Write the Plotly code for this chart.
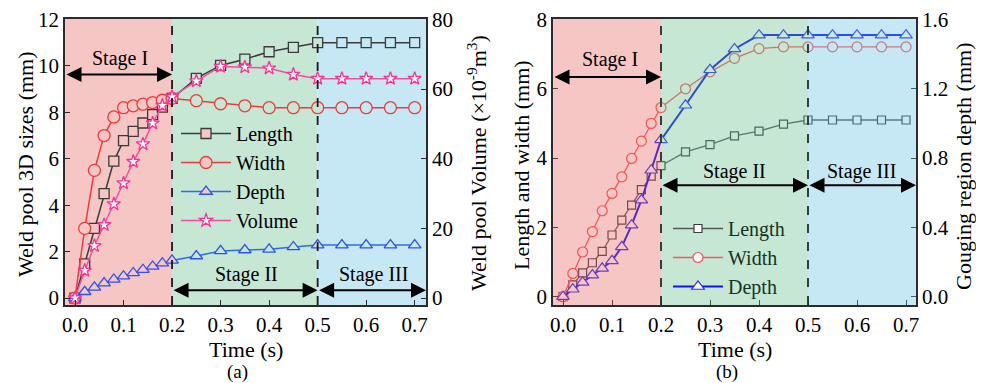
import plotly.graph_objects as go

# ---------------- data ----------------
time_s = [0, 0.02, 0.04, 0.06, 0.08, 0.10, 0.12, 0.14, 0.16, 0.18, 0.20,
          0.25, 0.30, 0.35, 0.40, 0.45, 0.50, 0.55, 0.60, 0.65, 0.70]

# (a) weld pool 3D sizes (mm) and volume (x1e-9 m^3)
length_a = [0, 1.47, 3.0, 4.5, 5.9, 6.78, 7.18, 7.54, 7.9, 8.22, 8.6,
            9.46, 10.02, 10.29, 10.61, 10.8, 11.0, 11.0, 11.0, 11.0, 11.0]
width_a = [0, 3.0, 5.5, 7.0, 7.8, 8.2, 8.28, 8.35, 8.42, 8.52, 8.6,
           8.5, 8.37, 8.28, 8.2, 8.2, 8.2, 8.2, 8.2, 8.2, 8.2]
depth_a = [0, 0.27, 0.46, 0.64, 0.8, 0.94, 1.08, 1.22, 1.36, 1.5, 1.62,
           1.81, 2.03, 2.07, 2.1, 2.2, 2.28, 2.28, 2.28, 2.28, 2.28]
volume_a = [0, 7.9, 15.0, 21.0, 27.0, 33.0, 39.2, 44.2, 50.2, 55.3, 57.8,
            62.3, 66.5, 66.3, 66.0, 64.2, 63.0, 63.0, 63.0, 63.0, 63.0]

# (b) length / width (mm) and gouging region depth (mm)
length_b = [0, 0.34, 0.69, 0.98, 1.31, 1.78, 2.21, 2.64, 3.09, 3.48, 3.78,
            4.18, 4.39, 4.64, 4.78, 4.98, 5.1, 5.1, 5.1, 5.1, 5.1]
width_b = [0, 0.67, 1.29, 1.88, 2.48, 2.98, 3.46, 3.99, 4.49, 5.0, 5.46,
           6.0, 6.49, 6.88, 7.16, 7.21, 7.21, 7.21, 7.21, 7.21, 7.21]
depth_b = [0, 0.043, 0.083, 0.125, 0.164, 0.207, 0.288, 0.413, 0.557, 0.73, 0.905,
           1.105, 1.31, 1.43, 1.51, 1.51, 1.51, 1.51, 1.51, 1.51, 1.51]

stage_bounds = [0.2, 0.5]
stage_names = ["Stage I", "Stage II", "Stage III"]

# ---------------- styling ----------------
W, H = 984, 383
OFF = 8  # page body margin of the html page
FONT = "Liberation Serif"
PINK, GREEN, BLUE = "#F6C6C4", "#C7E7D5", "#C6E8F4"

xr_a = [-0.0206, 0.7233]
xr_b = [-0.0204, 0.7204]
yr_a = [-0.3, 12.02]
yr_a2 = [-2, 80.13]
yr_b = [-0.24, 8.015]
yr_b2 = [-0.048, 1.603]


def px_x(p):
    return (p - OFF) / W


def px_y(p):
    return 1 - (p - OFF) / H


def region_fill(t):
    if t <= stage_bounds[0]:
        return PINK
    if t <= stage_bounds[1]:
        return GREEN
    return BLUE


fills_a = [region_fill(t) for t in time_s]

fig = go.Figure()

# ----- (a) -----
fig.add_trace(go.Scatter(x=time_s, y=length_a, name="Length", xaxis="x", yaxis="y",
                         mode="lines+markers", line=dict(color="#3a3a3a", width=1.5),
                         marker=dict(symbol="square", size=10, color=fills_a,
                                     line=dict(color="#3a3a3a", width=1.3)),
                         legend="legend"))
fig.add_trace(go.Scatter(x=time_s, y=width_a, name="Width", xaxis="x", yaxis="y",
                         mode="lines+markers", line=dict(color="#F03A3A", width=1.5),
                         marker=dict(symbol="circle", size=12, color=fills_a,
                                     line=dict(color="#F03A3A", width=1.3)),
                         legend="legend"))
fig.add_trace(go.Scatter(x=time_s, y=depth_a, name="Depth", xaxis="x", yaxis="y",
                         mode="lines+markers", line=dict(color="#2A6EF0", width=1.5),
                         marker=dict(symbol="triangle-up", size=11, color=fills_a,
                                     line=dict(color="#3050F0", width=1.3)),
                         legend="legend"))
fig.add_trace(go.Scatter(x=time_s, y=volume_a, name="Volume", xaxis="x", yaxis="y2",
                         mode="lines+markers", line=dict(color="#F0509E", width=1.5),
                         marker=dict(symbol="star", size=10, color="white",
                                     line=dict(color="#FF2F95", width=1.3)),
                         legend="legend"))

# ----- (b) -----
fig.add_trace(go.Scatter(x=time_s, y=length_b, name="Length", xaxis="x2", yaxis="y3",
                         mode="lines+markers", line=dict(color="#595659", width=1.3),
                         marker=dict(symbol="square", size=8, color="white",
                                     line=dict(color="#3f3c3f", width=1.2)),
                         legend="legend2"))
fig.add_trace(go.Scatter(x=time_s, y=width_b, name="Width", xaxis="x2", yaxis="y3",
                         mode="lines+markers", line=dict(color="#FF565C", width=1.3),
                         marker=dict(symbol="circle", size=10, color="white",
                                     line=dict(color="#FF4F56", width=1.2)),
                         legend="legend2"))
fig.add_trace(go.Scatter(x=time_s, y=depth_b, name="Depth", xaxis="x2", yaxis="y4",
                         mode="lines+markers", line=dict(color="#1010FF", width=2),
                         marker=dict(symbol="triangle-up", size=11, color="white",
                                     line=dict(color="#2a2aFF", width=1.2)),
                         legend="legend2"))

shapes = []
# (a) background regions (below data)
edges_a = [xr_a[0]] + stage_bounds + [xr_a[1]]
for i, c in enumerate([PINK, GREEN, BLUE]):
    shapes.append(dict(type="rect", xref="x", yref="y domain", x0=edges_a[i], x1=edges_a[i + 1],
                       y0=0, y1=1, fillcolor=c, line=dict(width=0), layer="below"))
# (b) translucent overlays (above data)
edges_b = [xr_b[0]] + stage_bounds + [xr_b[1]]
for i, c in enumerate(["rgba(229,92,86,0.35)", "rgba(95,186,135,0.35)", "rgba(92,189,224,0.35)"]):
    shapes.append(dict(type="rect", xref="x2", yref="y3 domain", x0=edges_b[i], x1=edges_b[i + 1],
                       y0=0, y1=1, fillcolor=c, line=dict(width=0), layer="above"))
# dashed stage boundaries
for xb in stage_bounds:
    shapes.append(dict(type="line", xref="x", yref="y domain", x0=xb, x1=xb, y0=0, y1=1,
                       line=dict(color="#1a1a1a", width=1.8, dash="dash"), layer="above"))
    shapes.append(dict(type="line", xref="x2", yref="y3 domain", x0=xb, x1=xb, y0=0, y1=1,
                       line=dict(color="#1f2f27", width=1.8, dash="dash"), layer="above"))

annotations = []


def arrow(xref, yref, x0, x1, y):
    return dict(xref=xref, yref=yref, axref=xref, ayref=yref, x=x1, y=y, ax=x0, ay=y,
                text="", showarrow=True, arrowhead=2, startarrowhead=2, arrowside="end+start",
                arrowsize=1.5, startarrowsize=1.5, arrowwidth=2, arrowcolor="black")


def label(xref, yref, x, y, text):
    return dict(xref=xref, yref=yref, x=x, y=y, text=text, showarrow=False,
                font=dict(family=FONT, size=20, color="black"), xanchor="center", yanchor="middle")


# (a) stage arrows/labels
annotations += [
    arrow("x", "y", xr_a[0], 0.2, 9.63), label("x", "y", 0.093, 10.3, stage_names[0]),
    arrow("x", "y", 0.2, 0.5, 0.34), label("x", "y", 0.354, 1.0, stage_names[1]),
    arrow("x", "y", 0.5, xr_a[1], 0.34), label("x", "y", 0.615, 1.0, stage_names[2]),
]
# (b) stage arrows/labels
annotations += [
    arrow("x2", "y3", xr_b[0], 0.2, 6.34), label("x2", "y3", 0.096, 6.85, stage_names[0]),
    arrow("x2", "y3", 0.2, 0.5, 3.22), label("x2", "y3", 0.351, 3.62, stage_names[1]),
    arrow("x2", "y3", 0.5, xr_b[1], 3.22), label("x2", "y3", 0.61, 3.62, stage_names[2]),
]


def title(px, py, text, angle=0, size=22):
    return dict(xref="paper", yref="paper", x=px_x(px), y=px_y(py), text=text, showarrow=False,
                textangle=angle, xanchor="center", yanchor="middle",
                font=dict(family=FONT, size=size, color="black"))


annotations += [
    title(25, 164, "Weld pool 3D sizes (mm)", -90),
    title(477, 163, "Weld pool Volume (×10<sup>-9</sup>m<sup>3</sup>)", -90),
    title(246, 349, "Time (s)"),
    title(237, 372, "(a)", size=19),
    title(522, 165, "Length and width (mm)", -90),
    title(963, 167, "Gouging region depth (mm)", -90),
    title(735, 349, "Time (s)"),
    title(727, 372, "(b)", size=19),
]

axis_common = dict(showline=True, linecolor="#2b2b2b", linewidth=1.5, ticks="inside", ticklen=5,
                   tickwidth=1.3, tickcolor="#2b2b2b", showgrid=False, zeroline=False,
                   ticklabeloverflow="allow",
                   tickfont=dict(family=FONT, size=21, color="black"), automargin=False)

dom_y = [px_y(305), px_y(19)]

fig.update_layout(
    width=W, height=H,
    margin=dict(l=0, r=0, t=0, b=0),
    paper_bgcolor="white", plot_bgcolor="white",
    font=dict(family=FONT, color="black"),
    xaxis=dict(domain=[px_x(65), px_x(426)], range=xr_a, tickvals=[0, 0.1, 0.2, 0.3, 0.4, 0.5, 0.6, 0.7],
               tickformat=".1f", anchor="y", mirror=True, **axis_common),
    yaxis=dict(domain=dom_y, range=yr_a, tickvals=[0, 2, 4, 6, 8, 10, 12], anchor="x",
               mirror=True, **axis_common),
    yaxis2=dict(range=yr_a2, tickvals=[0, 20, 40, 60, 80], overlaying="y", side="right",
                anchor="x", **axis_common),
    xaxis2=dict(domain=[px_x(553), px_x(916)], range=xr_b, tickvals=[0, 0.1, 0.2, 0.3, 0.4, 0.5, 0.6, 0.7],
                tickformat=".1f", anchor="y3", mirror=True, **axis_common),
    yaxis3=dict(domain=dom_y, range=yr_b, tickvals=[0, 2, 4, 6, 8], anchor="x2",
                mirror=True, **axis_common),
    yaxis4=dict(range=yr_b2, tickvals=[0, 0.4, 0.8, 1.2, 1.6], tickformat=".1f", overlaying="y3",
                side="right", anchor="x2", **axis_common),
    legend=dict(x=px_x(176), y=px_y(114), xanchor="left", yanchor="top",
                bgcolor="rgba(0,0,0,0)", borderwidth=0, itemwidth=50,
                font=dict(family=FONT, size=20, color="black"), tracegroupgap=0),
    legend2=dict(x=px_x(668), y=px_y(209), xanchor="left", yanchor="top",
                 bgcolor="rgba(0,0,0,0)", borderwidth=0, itemwidth=50,
                 font=dict(family=FONT, size=20, color="#163322"), tracegroupgap=0),
    shapes=shapes,
    annotations=annotations,
    showlegend=True,
)

fig.write_html("out.html")
